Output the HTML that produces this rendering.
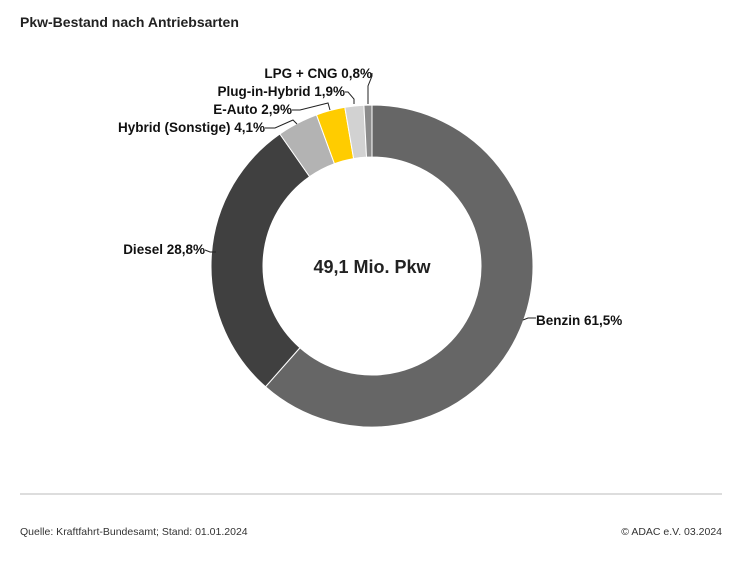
<!DOCTYPE html><html><head><meta charset="utf-8"><style>
body{margin:0;background:#fff;width:737px;height:575px;overflow:hidden;font-family:"Liberation Sans",sans-serif}
</style></head><body>
<svg id="s" width="737" height="575" xmlns="http://www.w3.org/2000/svg" font-family="Liberation Sans, sans-serif">
<text x="20" y="27" font-size="14" font-weight="bold" fill="#222">Pkw-Bestand nach Antriebsarten</text>
<g id="d"></g>
<text x="372" y="273" font-size="18" font-weight="bold" text-anchor="middle" fill="#222">49,1 Mio. Pkw</text>
<g font-size="13.5" font-weight="bold" fill="#111">
<text x="536" y="325">Benzin 61,5%</text>
<text x="205" y="254" text-anchor="end">Diesel 28,8%</text>
<text x="265" y="132" text-anchor="end">Hybrid (Sonstige) 4,1%</text>
<text x="292" y="114" text-anchor="end">E-Auto 2,9%</text>
<text x="345" y="96" text-anchor="end">Plug-in-Hybrid 1,9%</text>
<text x="372" y="78" text-anchor="end">LPG + CNG 0,8%</text>
</g>
<g fill="none" stroke="#222" stroke-width="1">
<polyline points="523,320 528,318 536,318"/>
<polyline points="205,250 210,252 216,252"/>
<polyline points="265,128 275,128 293,120 297,124"/>
<polyline points="292,110 300,110 328,103 330,110"/>
<polyline points="345,92 348,92 354,99 354,104"/>
<polyline points="372,73 372,76 368,86 368,104"/>
</g>
<line x1="20" y1="494" x2="722" y2="494" stroke="#bbb" stroke-width="1"/>
<text x="20" y="535" font-size="10.5" fill="#333">Quelle: Kraftfahrt-Bundesamt; Stand: 01.01.2024</text>
<text x="722" y="535" font-size="10.5" fill="#333" text-anchor="end">© ADAC e.V. 03.2024</text>
</svg>
<script>
var cx=372,cy=266,R=161,r=109;
var d=[[61.5,"#666666"],[28.8,"#404040"],[4.1,"#b3b3b3"],[2.9,"#ffcc00"],[1.9,"#d2d2d2"],[0.8,"#8c8c8c"]];
var a=0,g=document.getElementById("d"),h="";
function p(rad,ang){return [cx+rad*Math.sin(ang),cy-rad*Math.cos(ang)];}
d.forEach(function(x){var a0=a/100*2*Math.PI;a+=x[0];var a1=a/100*2*Math.PI;var l=(a1-a0)>Math.PI?1:0;
var A=p(R,a0),B=p(R,a1),C=p(r,a1),D=p(r,a0);
h+='<path d="M'+A+' A'+R+','+R+' 0 '+l+' 1 '+B+' L'+C+' A'+r+','+r+' 0 '+l+' 0 '+D+' Z" fill="'+x[1]+'" stroke="#fff" stroke-width="1"/>';});
g.innerHTML=h;
</script>
</body></html>
